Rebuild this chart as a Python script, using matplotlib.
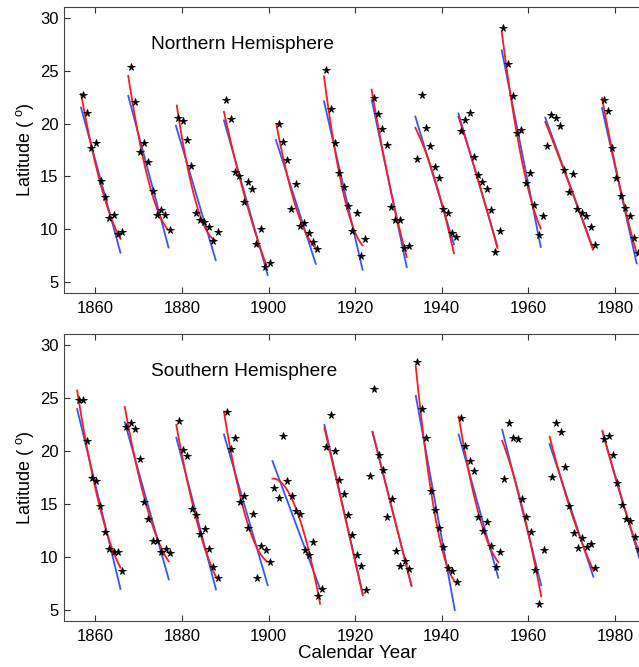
import numpy as np
import matplotlib
matplotlib.use("Agg")
import matplotlib.pyplot as plt

plt.rcParams["font.family"] = ["Liberation Sans", "DejaVu Sans"]
plt.rcParams["mathtext.fontset"] = "custom"
plt.rcParams["mathtext.rm"] = "Liberation Sans"

# yearly mean latitudes per cycle, northern hemisphere
north_years = [
    [1857.1, 1858.1, 1859.1, 1860.2, 1861.2, 1862.2, 1863.1, 1864.2, 1865.2, 1866.2],
    [1868.2, 1869.2, 1870.2, 1871.2, 1872.2, 1873.2, 1874.2, 1875.2, 1876.2, 1877.2],
    [1879.2, 1880.2, 1881.2, 1882.2, 1883.2, 1884.2, 1885.2, 1886.2, 1887.2, 1888.3],
    [1890.25, 1891.3, 1892.2, 1893.25, 1894.25, 1895.2, 1896.25, 1897.2, 1898.25, 1899.25, 1900.25],
    [1902.3, 1903.25, 1904.25, 1905.25, 1906.25, 1907.2, 1908.2, 1909.25, 1910.25, 1911.25],
    [1913.3, 1914.35, 1915.3, 1916.35, 1917.35, 1918.35, 1919.35, 1920.35, 1921.3, 1922.3],
    [1924.3, 1925.3, 1926.3, 1927.3, 1928.3, 1929.3, 1930.3, 1931.35, 1932.35],
    [1934.3, 1935.35, 1936.35, 1937.35, 1938.35, 1939.35, 1940.35, 1941.35, 1942.35, 1943.35],
    [1944.35, 1945.35, 1946.45, 1947.35, 1948.35, 1949.35, 1950.35, 1951.35, 1952.35, 1953.35],
    [1954.25, 1955.4, 1956.45, 1957.4, 1958.4, 1959.4, 1960.4, 1961.4, 1962.4, 1963.4],
    [1964.3, 1965.25, 1966.3, 1967.3, 1968.3, 1969.3, 1970.3, 1971.3, 1972.3, 1973.3, 1974.4, 1975.4],
    [1977.4, 1978.4, 1979.4, 1980.3, 1981.4, 1982.3, 1983.4, 1984.3, 1985.4],
]
north_lat = [
    [22.7, 21.0, 17.7, 18.2, 14.6, 13.1, 11.1, 11.4, 9.6, 9.75],
    [25.3, 22.05, 17.35, 18.15, 16.35, 13.65, 11.4, 11.8, 11.4, 9.95],
    [20.5, 20.25, 18.4, 15.95, 11.55, 10.9, 10.7, 10.2, 8.95, 9.8],
    [22.2, 20.45, 15.45, 15.0, 12.55, 14.5, 13.85, 8.6, 10.05, 6.45, 6.85],
    [20.0, 18.3, 16.55, 11.95, 14.25, 10.35, 10.65, 9.7, 8.8, 8.15],
    [25.05, 21.35, 18.2, 15.35, 14.05, 12.2, 9.85, 11.55, 7.5, 9.1],
    [22.45, 20.9, 19.5, 17.95, 12.15, 10.9, 10.85, 8.25, 8.45],
    [16.65, 22.65, 19.6, 17.9, 15.85, 14.9, 11.9, 11.55, 9.65, 9.25],
    [19.25, 20.35, 20.95, 16.8, 15.1, 14.5, 13.85, 11.8, 7.85, 9.85],
    [29.05, 25.6, 22.6, 19.15, 19.4, 14.4, 15.3, 12.3, 9.45, 11.3],
    [17.9, 20.85, 20.5, 19.75, 15.6, 13.55, 15.2, 11.9, 11.55, 11.25, 10.2, 8.5],
    [22.2, 21.15, 17.65, 14.85, 13.15, 12.05, 11.3, 9.15, 7.75],
]
# linear fit: (x start, lat start, x end, lat end)
north_lin = [
    (1856.7, 21.5, 1865.8, 7.8), (1867.6, 22.6, 1876.9, 8.3),
    (1878.6, 19.8, 1887.8, 7.1), (1889.7, 20.3, 1899.8, 5.7),
    (1901.7, 18.45, 1910.9, 6.75), (1912.8, 22.1, 1921.7, 6.2),
    (1923.85, 22.2, 1931.9, 6.45), (1933.9, 20.65, 1942.8, 8.6),
    (1943.85, 20.95, 1952.85, 8.4), (1953.85, 26.9, 1962.85, 8.35),
    (1963.9, 20.55, 1975.0, 8.15), (1977.0, 21.45, 1985.0, 6.8),
]
# quadratic fit: (x start, lat, x mid, lat, x end, lat)
north_quad = [
    (1856.7, 22.8, 1861.2, 14.3, 1865.8, 9.1), (1867.6, 24.5, 1872.2, 14.7, 1876.7, 10.0),
    (1878.8, 21.7, 1883.2, 12.6, 1887.6, 9.0), (1889.7, 21.1, 1894.7, 12.8, 1899.6, 6.5),
    (1901.8, 19.95, 1906.4, 12.0, 1911.0, 8.2), (1912.8, 24.45, 1917.3, 13.4, 1921.7, 8.5),
    (1923.8, 23.2, 1927.9, 14.3, 1931.9, 7.4), (1933.9, 19.6, 1938.35, 14.8, 1942.8, 7.75),
    (1943.85, 20.65, 1948.3, 14.8, 1952.85, 8.25), (1953.85, 28.65, 1958.35, 16.8, 1962.85, 10.1),
    (1963.9, 20.15, 1969.4, 14.3, 1974.9, 8.1), (1977.0, 22.4, 1981.0, 14.3, 1985.0, 7.75),
]

# southern hemisphere
south_years = [
    [1856.15, 1857.2, 1858.15, 1859.15, 1860.2, 1861.15, 1862.2, 1863.2, 1864.2, 1865.2, 1866.2],
    [1867.1, 1868.25, 1869.25, 1870.25, 1871.25, 1872.25, 1873.25, 1874.25, 1875.25, 1876.25, 1877.25],
    [1879.3, 1880.25, 1881.25, 1882.25, 1883.25, 1884.25, 1885.25, 1886.25, 1887.25, 1888.3],
    [1890.35, 1891.35, 1892.35, 1893.35, 1894.35, 1895.35, 1896.4, 1897.35, 1898.35, 1899.35, 1900.35],
    [1901.25, 1902.35, 1903.35, 1904.35, 1905.35, 1906.35, 1907.35, 1908.35, 1909.35, 1910.35, 1911.35, 1912.35],
    [1913.3, 1914.35, 1915.3, 1916.35, 1917.35, 1918.35, 1919.35, 1920.45, 1921.45, 1922.45],
    [1923.45, 1924.45, 1925.45, 1926.45, 1927.45, 1928.45, 1929.45, 1930.45, 1931.45, 1932.45],
    [1934.35, 1935.45, 1936.45, 1937.5, 1938.45, 1939.45, 1940.35, 1941.35, 1942.45, 1943.45],
    [1944.45, 1945.45, 1946.45, 1947.45, 1948.45, 1949.45, 1950.45, 1951.45, 1952.45, 1953.45],
    [1954.4, 1955.5, 1956.4, 1957.5, 1958.5, 1959.5, 1960.5, 1961.5, 1962.5, 1963.5],
    [1965.45, 1966.45, 1967.45, 1968.45, 1969.45, 1970.45, 1971.45, 1972.45, 1973.45, 1974.45, 1975.45],
    [1977.45, 1978.55, 1979.45, 1980.45, 1981.55, 1982.45, 1983.55, 1984.55, 1985.5],
]
south_lat = [
    [24.8, 24.8, 20.95, 17.45, 17.15, 14.85, 12.35, 10.8, 10.5, 10.5, 8.7],
    [22.25, 22.65, 22.05, 19.25, 15.2, 13.55, 11.55, 11.55, 10.45, 10.8, 10.4],
    [22.85, 20.1, 19.55, 14.55, 13.95, 12.15, 12.6, 10.8, 9.1, 8.0],
    [23.7, 20.2, 21.25, 15.15, 15.8, 12.75, 14.05, 8.0, 11.05, 10.7, 9.55],
    [16.55, 15.55, 21.4, 17.15, 15.8, 14.3, 14.05, 10.65, 10.15, 11.45, 6.3, 7.0],
    [20.35, 23.35, 20.0, 17.3, 15.9, 13.95, 12.1, 10.2, 9.2, 6.9],
    [17.6, 25.8, 19.6, 18.2, 13.8, 15.45, 10.55, 9.2, 9.6, 8.9],
    [28.35, 23.95, 21.25, 16.25, 14.45, 12.75, 10.95, 9.0, 8.7, 7.65],
    [23.1, 20.5, 19.05, 18.1, 13.8, 12.45, 13.35, 11.05, 9.1, 10.5],
    [17.4, 22.6, 21.2, 21.1, 15.45, 13.75, 12.4, 8.75, 5.55, 10.7],
    [17.55, 22.6, 21.75, 18.45, 14.85, 12.25, 10.85, 11.75, 10.95, 11.25, 8.95],
    [21.1, 21.4, 19.6, 16.95, 14.9, 13.55, 13.4, 11.85, 10.75],
]
south_lin = [
    (1855.8, 23.95, 1865.8, 7.0), (1866.8, 22.7, 1876.95, 7.9),
    (1878.7, 21.25, 1887.85, 6.95), (1889.7, 21.55, 1899.8, 7.35),
    (1900.9, 19.05, 1911.9, 7.0), (1912.9, 22.45, 1921.75, 6.55),
    (1924.0, 21.8, 1933.0, 7.3), (1934.0, 25.2, 1943.0, 5.0),
    (1943.9, 21.55, 1953.05, 8.05), (1953.95, 22.0, 1962.95, 7.35),
    (1964.9, 20.65, 1975.0, 8.15), (1977.1, 21.8, 1985.6, 9.9),
]
south_quad = [
    (1855.8, 25.7, 1860.8, 15.1, 1865.8, 9.0), (1866.8, 24.15, 1871.9, 14.7, 1876.95, 9.6),
    (1878.7, 22.45, 1883.3, 13.6, 1887.85, 8.15), (1889.7, 23.7, 1894.7, 13.8, 1899.6, 9.6),
    (1900.9, 17.4, 1906.4, 14.5, 1911.9, 5.6), (1912.9, 22.15, 1917.3, 14.4, 1921.75, 6.4),
    (1924.0, 21.8, 1928.5, 14.55, 1933.0, 7.3), (1934.0, 27.95, 1938.5, 13.8, 1943.3, 7.6),
    (1943.9, 23.25, 1948.5, 14.1, 1953.1, 9.5), (1953.95, 20.95, 1958.45, 14.9, 1962.95, 6.3),
    (1964.9, 21.35, 1970.0, 14.1, 1975.0, 8.75), (1977.1, 21.9, 1981.3, 15.8, 1985.6, 10.4),
]

fig = plt.figure(figsize=(6.39, 6.67), dpi=100)
ax_n = fig.add_axes([0.1002, 0.5607, 0.9185, 0.4288])
ax_s = fig.add_axes([0.1002, 0.0694, 0.9185, 0.4294])


def draw_panel(ax, years, lats, lin, quad, title):
    for xs, ys, ln, qd in zip(years, lats, lin, quad):
        ax.plot([ln[0], ln[2]], [ln[1], ln[3]], color="#3355ff", lw=1.3)
        coef = np.polyfit([qd[0], qd[2], qd[4]], [qd[1], qd[3], qd[5]], 2)
        xx = np.linspace(qd[0], qd[4], 60)
        ax.plot(xx, np.polyval(coef, xx), color="#ff1a1a", lw=1.3)
        ax.plot(xs, ys, "*", color="black", ms=5.5, mew=0.6)
    ax.set_xlim(1852.77, 1988.3)
    ax.set_ylim(4, 31)
    ax.set_xticks([1860, 1880, 1900, 1920, 1940, 1960, 1980])
    ax.set_yticks([5, 10, 15, 20, 25, 30])
    ax.tick_params(direction="in", top=True, right=True, length=4, width=0.8,
                   color="#333333", labelsize=12, pad=4)
    ax.tick_params(axis="x", pad=6)
    for sp in ax.spines.values():
        sp.set_color("#444444")
        sp.set_linewidth(0.8)
    ax.set_ylabel("Latitude ( $^{\\mathrm{o}}$)", fontsize=13, labelpad=3)
    ax.text(1872.8, 27.45, title, fontsize=13.8, ha="left", va="center")


draw_panel(ax_n, north_years, north_lat, north_lin, north_quad, "Northern Hemisphere")
draw_panel(ax_s, south_years, south_lat, south_lin, south_quad, "Southern Hemisphere")
ax_s.set_xlabel("Calendar Year", fontsize=13.5, labelpad=1)

fig.savefig("out.png", dpi=100)
